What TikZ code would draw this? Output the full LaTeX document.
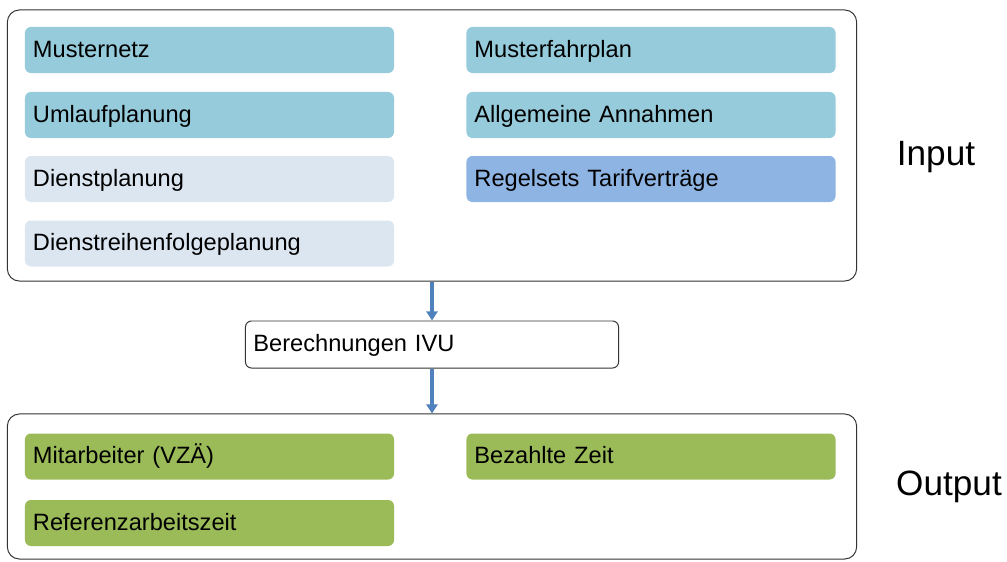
\documentclass[tikz,border=0pt]{standalone}
\usepackage{fontspec}
\setmainfont{Liberation Sans}
\usetikzlibrary{arrows.meta}
\definecolor{teal}{HTML}{95CBDB}
\definecolor{pale}{HTML}{DCE6F1}
\definecolor{sky}{HTML}{8EB4E3}
\definecolor{leaf}{HTML}{9BBB59}
\definecolor{flowblue}{HTML}{4F81BD}

\begin{document}
\begin{tikzpicture}[x=0.025cm,y=-0.025cm,every node/.style={font=\fontsize{16.8}{20}\selectfont},
  item/.style={rounded corners=0.15cm,text width=8.825cm,inner xsep=0.2cm,inner ysep=0pt,minimum height=1.15cm,text height=2.7ex,text depth=0.7ex,align=left},
  frame/.style={draw=black!80,line width=0.7pt,rounded corners=0.3cm,minimum width=21.225cm},
  flow/.style={draw=flowblue,line width=2.6pt,-{Triangle[width=8pt,length=6.5pt]}}]
\useasboundingbox (0,0) rectangle (1007,561);
\node[frame,minimum height=6.775cm] (infr) at (432,145.5){};
\node[frame,minimum height=3.625cm] (outfr) at (432,486.5){};
\node[item,fill=teal] (netz) at (209.5,50){Musternetz};\node[item,fill=teal] (fahrplan) at (651,50){Musterfahrplan};
\node[item,fill=teal] (umlauf) at (209.5,115){Umlaufplanung};\node[item,fill=teal] (annahmen) at (651,115){Allgemeine Annahmen};
\node[item,fill=pale] (dienst) at (209.5,179){Dienstplanung};\node[item,fill=sky] (tarif) at (651,179){Regelsets Tarifverträge};
\node[item,fill=pale] (folge) at (209.5,243.5){Dienstreihenfolgeplanung};
\node[item,draw=black!80,line width=0.7pt,text width=8.925cm,minimum height=1.175cm] (calc) at (432,344.5){Berechnungen IVU};
\node[item,fill=leaf] (vza) at (209.5,456.5){Mitarbeiter (VZÄ)};\node[item,fill=leaf] (bezahlt) at (651,456.5){Bezahlte Zeit};
\node[item,fill=leaf] (referenz) at (209.5,523){Referenzarbeitszeit};
\node[font=\fontsize{25}{30}\selectfont] (input) at (936,157){Input};
\node[font=\fontsize{25}{30}\selectfont] (output) at (949,487){Output};
\draw[flow] (infr.south) -- (calc.north);
\draw[flow] (calc.south) -- (outfr.north);
\end{tikzpicture}
\end{document}
